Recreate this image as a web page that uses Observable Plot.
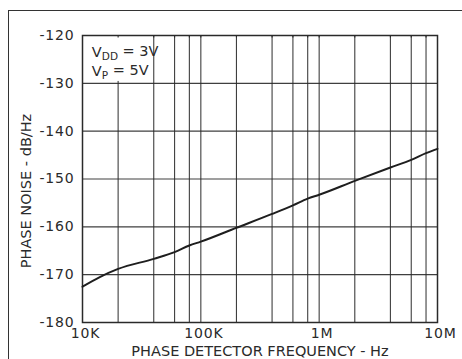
<!DOCTYPE html>
<html>
<head>
<meta charset="utf-8">
<script src="https://cdn.jsdelivr.net/npm/d3@7"></script>
<script src="https://cdn.jsdelivr.net/npm/@observablehq/plot@0.6"></script>
<style>
  html, body { margin: 0; padding: 0; background: #fff; }
  #wrap { position: relative; width: 462px; height: 359px; overflow: hidden; }
  #border { position: absolute; left: 8px; top: 10px; width: 470px; height: 360px; z-index: 2;
            border-top: 1.5px solid #333; border-left: 1.5px solid #333; pointer-events: none; }
  #chart { position: absolute; left: 0; top: 0; z-index: 1; }
  svg text { font-family: "DejaVu Sans", sans-serif; }
</style>
</head>
<body>
<div id="wrap"><div id="chart"></div><div id="border"></div></div>
<script>
// Data
const freqHz = [10000, 14000, 20000, 40000, 60000, 80000, 100000, 200000, 400000, 600000, 800000,
                1000000, 2000000, 4000000, 6000000, 8000000, 10000000];
const noiseDb = [-172.5, -170.5, -168.8, -166.7, -165.3, -163.9, -163.1, -160.2, -157.3, -155.5, -154.1,
                 -153.3, -150.4, -147.6, -146.0, -144.6, -143.7];
const xTicks = [10000, 100000, 1000000, 10000000];
const xTickLabels = ["10K", "100K", "1M", "10M"];
const xGrid = [20000, 40000, 60000, 80000, 100000, 200000, 400000, 600000, 800000,
               1000000, 2000000, 4000000, 6000000, 8000000];
const yTicks = [-180, -170, -160, -150, -140, -130, -120];
const notes = ["VDD = 3V", "VP = 5V"];
const noteY = [-123.6, -127.5];

const data = freqHz.map((f, i) => ({f, n: noiseDb[i]}));
const ink = "#2a2a2a";

const chart = Plot.plot({
  width: 462,
  height: 359,
  marginLeft: 82,
  marginRight: 25,
  marginTop: 35,
  marginBottom: 37,
  style: {fontFamily: "DejaVu Sans, sans-serif", background: "white", color: ink},
  x: {type: "log", domain: [10000, 10000000]},
  y: {domain: [-180, -120]},
  marks: [
    Plot.ruleX(xGrid, {stroke: ink, strokeWidth: 1.1, strokeOpacity: 0.9}),
    Plot.ruleY(yTicks, {stroke: ink, strokeWidth: 1.1, strokeOpacity: 0.9}),
    Plot.rect([0], {x1: () => 10000, x2: () => 38500, y1: () => -129.6, y2: () => -120, fill: "white"}),
    Plot.ruleX(xGrid, {y1: -120, y2: -120.5, stroke: ink, strokeWidth: 1.1}),
    Plot.frame({stroke: ink, strokeWidth: 1.5}),
    Plot.line(data, {x: "f", y: "n", curve: "monotone-x", stroke: "#1e1e1e", strokeWidth: 2}),
    Plot.axisY(yTicks, {tickSize: 0, tickPadding: 8, fontSize: 14, label: null,
                        tickFormat: d => String(d)}),
    Plot.axisX(xTicks, {tickSize: 0, tickPadding: 6, fontSize: 14, label: null, dx: 3,
                        tickFormat: d => xTickLabels[xTicks.indexOf(d)]}),
    Plot.text(["PHASE DETECTOR FREQUENCY - Hz"], {frameAnchor: "bottom", dy: 33, fontSize: 14.5,
                        lineAnchor: "bottom", fill: ink}),
    Plot.text(["PHASE NOISE - dB/Hz"], {frameAnchor: "left", dx: -56, dy: 12, rotate: -90, fontSize: 14.5,
                        textAnchor: "middle", lineAnchor: "middle", fill: ink}),
    Plot.text(notes, {x: () => 12000, y: (d, i) => noteY[i], textAnchor: "start",
                      lineAnchor: "middle", fontSize: 14.5, fill: ink, className: "vnote"})
  ]
});
document.getElementById("chart").appendChild(chart);

// Render subscripts in the supply notes
d3.select(chart).selectAll("g.vnote text").each(function() {
  const s = this.textContent;
  const m = s.match(/^V([A-Z]+)(.*)$/);
  if (!m) return;
  const t = d3.select(this);
  t.text("");
  t.append("tspan").text("V");
  t.append("tspan").attr("font-size", 10.5).attr("dy", "0.25em").text(m[1]);
  t.append("tspan").attr("dy", "-0.25em").text(m[2]);
});
d3.select(chart).selectAll("g[aria-label='y-axis tick label'] text").attr("letter-spacing", "0.8");
d3.select(chart).selectAll("g[aria-label='x-axis tick label'] text").attr("letter-spacing", "0.8");
</script>
</body>
</html>
